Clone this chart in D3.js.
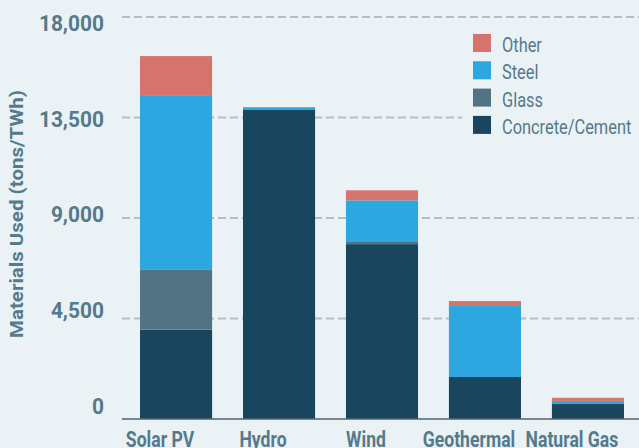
<!DOCTYPE html>
<html>
<head>
<meta charset="utf-8">
<script src="https://cdn.jsdelivr.net/npm/d3@7"></script>
<style>
  html, body { margin: 0; padding: 0; background: #eaf2f6; }
  svg { display: block; }
  .lbl { font-family: Roboto, "Liberation Sans", sans-serif; }
</style>
</head>
<body>
<svg id="chart" width="639" height="448"></svg>
<script>
const categories = ["Solar PV", "Hydro", "Wind", "Geothermal", "Natural Gas"];
const seriesNames = ["Concrete/Cement", "Glass", "Steel", "Other"];
const concrete = [4000, 13860, 7830, 1880, 670];
const glass    = [2700, 0, 130, 0, 0];
const steel    = [7800, 100, 1830, 3220, 140];
const other    = [1750, 0, 450, 180, 140];
const yTicks = [0, 4500, 9000, 13500, 18000];
const yTickLabels = ["0", "4,500", "9,000", "13,500", "18,000"];
const legendOrder = ["Other", "Steel", "Glass", "Concrete/Cement"];
const colors = {"Concrete/Cement": "#19465e", "Glass": "#527383", "Steel": "#2ca7e0", "Other": "#d6736c"};

const seriesValues = {"Concrete/Cement": concrete, "Glass": glass, "Steel": steel, "Other": other};
const table = categories.map((c, i) => {
  const row = {category: c};
  seriesNames.forEach(s => row[s] = seriesValues[s][i]);
  return row;
});

const svg = d3.select("#chart");
const textColor = "#557a8c";

// condense text (the reference uses a condensed face)
function condense(sel, ratio) {
  sel.each(function() {
    const w = this.getComputedTextLength();
    d3.select(this).attr("textLength", w * ratio).attr("lengthAdjust", "spacingAndGlyphs");
  });
}

const y = d3.scaleLinear().domain([0, 18000]).range([419, 17]);
const yLabel = d3.scaleLinear().domain([0, 18000]).range([406, 23]);
const x = d3.scaleBand().domain(categories).range([122, 642]).paddingInner(0.3).paddingOuter(0.175);

// gridlines
svg.append("g").selectAll("line").data(yTicks.filter(v => v > 0)).join("line")
  .attr("x1", 122).attr("x2", 639)
  .attr("y1", d => y(d)).attr("y2", d => y(d))
  .attr("stroke", "#b6bec5").attr("stroke-width", 2).attr("stroke-dasharray", "8,4");

// stacked bars
const stack = d3.stack().keys(seriesNames)(table);
svg.append("g").selectAll("g").data(stack).join("g")
  .attr("fill", d => colors[d.key])
  .selectAll("rect").data(d => d).join("rect")
  .attr("x", d => x(d.data.category))
  .attr("width", x.bandwidth())
  .attr("y", d => y(d[1]))
  .attr("height", d => Math.max(0, y(d[0]) - y(d[1])));

// baseline
svg.append("line").attr("x1", 122).attr("x2", 639).attr("y1", y(0)).attr("y2", y(0))
  .attr("stroke", "#4f6470").attr("stroke-width", 1.5);

// y tick labels
svg.append("g").selectAll("text").data(yTicks).join("text")
  .attr("class", "lbl")
  .attr("x", 104).attr("y", d => yLabel(d))
  .attr("dy", "0.36em")
  .attr("text-anchor", "end")
  .attr("font-size", 22).attr("font-weight", "bold").attr("fill", textColor)
  .text((d, i) => yTickLabels[i])
  .call(condense, 0.95);

// y axis title
svg.append("text").attr("class", "lbl")
  .attr("transform", "translate(23,214) rotate(-90)")
  .attr("text-anchor", "middle")
  .attr("font-size", 19).attr("font-weight", "bold").attr("fill", textColor)
  .text("Materials Used (tons/TWh)")
  .attr("textLength", 248).attr("lengthAdjust", "spacingAndGlyphs");

// x labels
svg.append("g").selectAll("text").data(categories).join("text")
  .attr("class", "lbl")
  .attr("x", d => x(d) + x.bandwidth() / 2 - 16)
  .attr("y", 447)
  .attr("text-anchor", "middle")
  .attr("font-size", 22).attr("font-weight", "bold").attr("fill", textColor)
  .text(d => d)
  .call(condense, 0.8);

// legend
const lg = svg.append("g");
lg.append("rect").attr("x", 462).attr("y", 26).attr("width", 177).attr("height", 112).attr("fill", "#eaf2f6");
const items = lg.selectAll("g").data(legendOrder).join("g")
  .attr("transform", (d, i) => `translate(473,${34 + i * 27.3})`);
items.append("rect").attr("width", 18).attr("height", 18).attr("fill", d => colors[d]);
items.append("text").attr("class", "lbl")
  .attr("x", 29).attr("y", 18)
  .attr("font-size", 21).attr("fill", textColor)
  .text(d => d)
  .call(condense, 0.78);
</script>
</body>
</html>
